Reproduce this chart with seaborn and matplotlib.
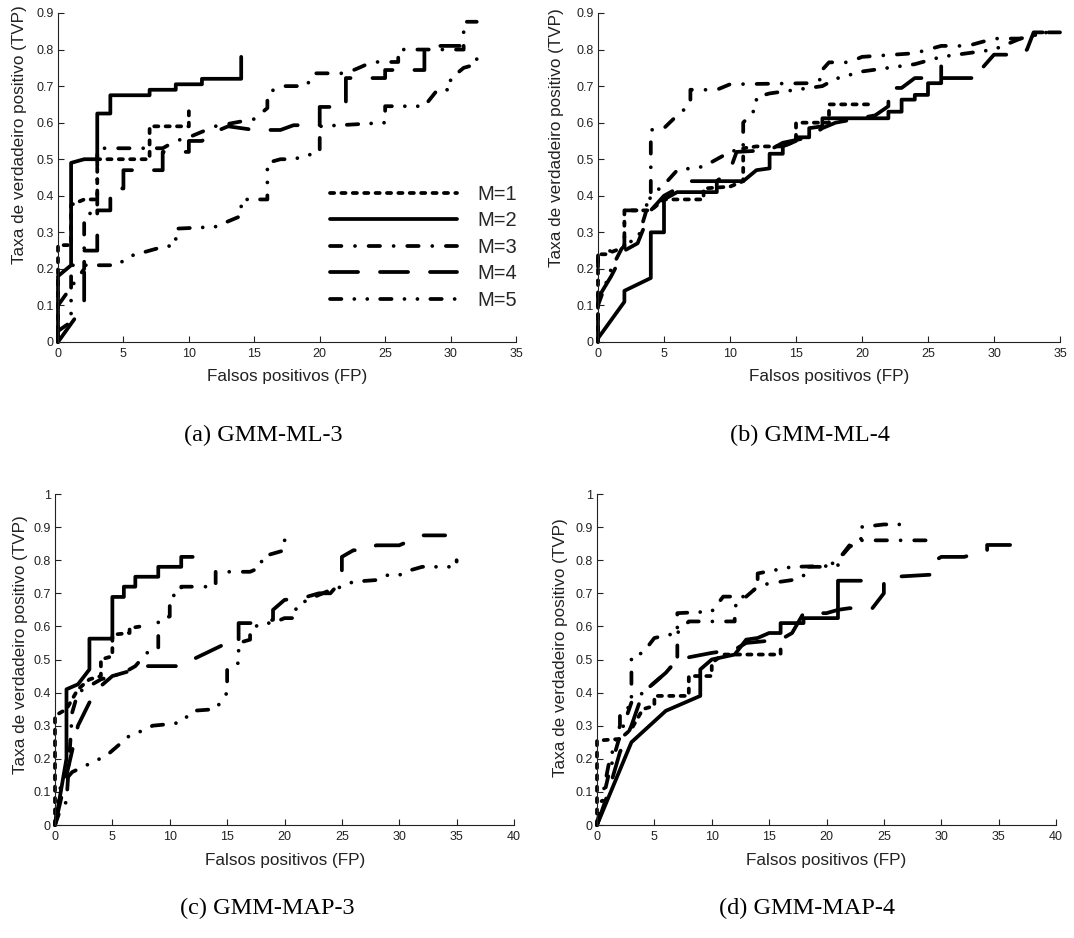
import matplotlib
matplotlib.use("Agg")
import matplotlib.pyplot as plt
from matplotlib.lines import Line2D
import seaborn as sns
import pandas as pd

# ---------------- data (FP, TVP) ----------------
labels_m = ["M=1", "M=2", "M=3", "M=4", "M=5"]

# (a) GMM-ML-3
a_m1_fp = [0, 0, 1, 1, 2, 3, 3, 7, 7, 10, 10]
a_m1_tvp = [0, 0.265, 0.265, 0.375, 0.39, 0.39, 0.5, 0.5, 0.59, 0.59, 0.64]
a_m2_fp = [0, 0, 1, 1, 2, 3, 3, 4, 4, 7, 7, 9, 9, 11, 11, 14, 14]
a_m2_tvp = [0, 0.18, 0.21, 0.49, 0.5, 0.5, 0.625, 0.625, 0.675, 0.675, 0.69, 0.69, 0.705, 0.705, 0.72, 0.72, 0.78]
a_m3_fp = [0, 0, 1, 2, 2, 3, 3, 8, 9, 10, 12, 15, 16, 16, 17, 19, 19.5, 22, 23, 24, 26, 26, 31, 31, 32]
a_m3_tvp = [0, 0.1, 0.15, 0.2, 0.345, 0.36, 0.53, 0.53, 0.55, 0.56, 0.59, 0.61, 0.64, 0.68, 0.70, 0.70, 0.735, 0.735, 0.75, 0.766, 0.766, 0.8, 0.8, 0.876, 0.876]
a_m4_fp = [0, 2, 2, 3, 3, 4, 4, 5, 5, 8, 8, 10, 10, 11, 12, 13, 15, 17, 18, 20, 20, 22, 22, 25, 25, 28, 28, 30.7]
a_m4_tvp = [0, 0.1, 0.25, 0.25, 0.36, 0.36, 0.42, 0.42, 0.47, 0.47, 0.52, 0.52, 0.55, 0.55, 0.575, 0.59, 0.58, 0.58, 0.593, 0.593, 0.643, 0.643, 0.722, 0.722, 0.744, 0.744, 0.81, 0.81]
a_m5_fp = [0, 1, 1, 4.5, 5.5, 8, 9, 9, 12, 14, 14, 16, 16, 17, 18, 20, 20, 25, 25, 28, 29, 30, 30, 31, 32, 32]
a_m5_tvp = [0.03, 0.055, 0.21, 0.21, 0.235, 0.26, 0.265, 0.31, 0.315, 0.345, 0.39, 0.39, 0.49, 0.5, 0.5, 0.52, 0.59, 0.6, 0.645, 0.645, 0.69, 0.69, 0.72, 0.75, 0.76, 0.78]

# (b) GMM-ML-4
b_m1_fp = [0, 0, 0.6, 2, 2, 4, 5, 8, 8, 10, 11, 11, 12, 14, 15, 15, 17.5, 17.5, 20.5]
b_m1_tvp = [0, 0.24, 0.24, 0.26, 0.36, 0.36, 0.39, 0.39, 0.42, 0.425, 0.44, 0.53, 0.535, 0.535, 0.55, 0.6, 0.6, 0.65, 0.65]
b_m2_fp = [0, 2, 2, 4, 4, 5, 5, 6, 9, 9, 11, 12, 13, 13, 14, 14, 15, 15, 16, 16, 17, 17, 22, 22, 23, 23, 24, 24, 25, 25, 26, 26]
b_m2_tvp = [0.01, 0.11, 0.14, 0.175, 0.3, 0.3, 0.39, 0.41, 0.41, 0.44, 0.44, 0.47, 0.475, 0.515, 0.515, 0.535, 0.55, 0.56, 0.56, 0.585, 0.59, 0.612, 0.612, 0.63, 0.63, 0.663, 0.663, 0.676, 0.676, 0.708, 0.708, 0.754]
b_m3_fp = [0, 0, 1, 2, 2, 3.5, 4, 4, 5, 6, 7, 7, 9, 10, 16, 17, 17, 17.5, 19, 20, 24, 25, 26, 28, 30, 32, 34, 35]
b_m3_tvp = [0.1, 0.24, 0.25, 0.26, 0.36, 0.36, 0.4, 0.58, 0.585, 0.62, 0.65, 0.69, 0.69, 0.705, 0.708, 0.72, 0.745, 0.765, 0.765, 0.78, 0.79, 0.80, 0.81, 0.81, 0.83, 0.83, 0.847, 0.847]
b_m4_fp = [0, 0, 1, 2, 3, 4, 5, 7, 9, 10, 10.5, 13, 14, 16, 17, 18, 21, 22, 22, 23, 24, 29, 29, 30, 32, 32.5, 33, 34.2]
b_m4_tvp = [0, 0.12, 0.18, 0.25, 0.27, 0.36, 0.40, 0.44, 0.44, 0.47, 0.52, 0.525, 0.545, 0.56, 0.585, 0.6, 0.62, 0.645, 0.695, 0.695, 0.722, 0.722, 0.745, 0.786, 0.786, 0.8, 0.847, 0.847]
b_m5_fp = [0, 1, 2, 3, 4, 5, 6, 8, 9, 10, 11, 11, 12, 12, 13, 17, 18, 20, 22, 24, 26, 28, 30, 32, 34]
b_m5_tvp = [0.1, 0.2, 0.27, 0.28, 0.4, 0.43, 0.47, 0.48, 0.5, 0.52, 0.53, 0.6, 0.64, 0.67, 0.68, 0.7, 0.72, 0.74, 0.75, 0.76, 0.78, 0.79, 0.8, 0.83, 0.847]

# (c) GMM-MAP-3
c_m1_fp = [0, 0, 1, 2, 3, 4, 4, 5, 5, 6.5, 6.5, 7.5]
c_m1_tvp = [0, 0.33, 0.35, 0.41, 0.44, 0.45, 0.5, 0.51, 0.575, 0.58, 0.595, 0.6]
c_m2_fp = [0, 1, 1, 2, 3, 3, 5, 5, 6, 6, 7, 7, 9, 9, 11, 11, 12]
c_m2_tvp = [0, 0.2, 0.41, 0.425, 0.47, 0.563, 0.563, 0.689, 0.689, 0.72, 0.72, 0.75, 0.75, 0.78, 0.78, 0.81, 0.81]
c_m3_fp = [0, 0.5, 1, 1.5, 2, 3, 4, 5, 6, 7, 8, 9, 9, 10, 10, 11, 11, 14, 14, 17, 18, 18, 19, 20, 20, 21]
c_m3_tvp = [0, 0.05, 0.07, 0.34, 0.40, 0.42, 0.44, 0.45, 0.46, 0.48, 0.52, 0.53, 0.62, 0.63, 0.69, 0.70, 0.72, 0.72, 0.765, 0.765, 0.78, 0.81, 0.82, 0.83, 0.86, 0.86]
c_m4_fp = [0, 1, 2, 3, 4, 5, 6, 7, 8, 11, 12, 15, 15, 16, 16, 18, 19, 19, 20, 22, 23, 24, 25, 25, 26, 27, 28, 30, 32, 34]
c_m4_tvp = [0, 0.15, 0.3, 0.37, 0.42, 0.45, 0.46, 0.47, 0.48, 0.48, 0.5, 0.55, 0.56, 0.56, 0.61, 0.61, 0.62, 0.65, 0.68, 0.69, 0.70, 0.70, 0.74, 0.81, 0.83, 0.83, 0.845, 0.845, 0.875, 0.875]
c_m5_fp = [0, 0.5, 1.5, 4.5, 6.5, 8, 8.5, 10, 11, 12, 14, 15, 15, 16, 16, 17, 17, 18, 19, 20, 21, 21, 22, 24, 25, 26, 28, 29, 30, 31, 32, 35, 35]
c_m5_tvp = [0, 0.12, 0.16, 0.21, 0.27, 0.29, 0.3, 0.305, 0.31, 0.345, 0.35, 0.4, 0.47, 0.49, 0.55, 0.56, 0.59, 0.61, 0.61, 0.625, 0.625, 0.66, 0.68, 0.71, 0.72, 0.735, 0.74, 0.755, 0.755, 0.77, 0.78, 0.78, 0.8]

# (d) GMM-MAP-4
d_m1_fp = [0, 0, 2, 3, 4, 5, 5, 8, 8, 10, 10, 11, 16, 16]
d_m1_tvp = [0, 0.255, 0.26, 0.29, 0.35, 0.36, 0.39, 0.39, 0.45, 0.45, 0.49, 0.515, 0.515, 0.54]
d_m2_fp = [0, 3, 6, 9, 9, 10, 12, 13, 14, 15, 16, 16, 18, 18, 21, 21, 23]
d_m2_tvp = [0, 0.25, 0.345, 0.39, 0.47, 0.5, 0.515, 0.56, 0.565, 0.58, 0.58, 0.61, 0.61, 0.625, 0.625, 0.738, 0.738]
d_m3_fp = [0, 1, 2, 3, 4, 6, 7, 7, 8, 12, 12, 13, 14, 15, 17, 18, 18, 20, 21, 22, 23, 29]
d_m3_tvp = [0, 0.15, 0.27, 0.37, 0.4, 0.46, 0.5, 0.58, 0.615, 0.615, 0.66, 0.69, 0.72, 0.73, 0.74, 0.75, 0.78, 0.78, 0.8, 0.845, 0.86, 0.86]
d_m4_fp = [0, 1, 2, 3, 4, 6, 7, 10, 12, 13, 16, 17, 18, 20, 21, 22, 24, 25, 25, 26, 29, 29, 30, 32, 34, 34, 36]
d_m4_tvp = [0, 0.1, 0.22, 0.3, 0.4, 0.46, 0.5, 0.52, 0.53, 0.55, 0.56, 0.58, 0.64, 0.64, 0.65, 0.655, 0.655, 0.7, 0.74, 0.75, 0.756, 0.79, 0.81, 0.81, 0.83, 0.846, 0.846]
d_m5_fp = [0, 1, 2, 2, 3, 3, 4, 5, 7, 7, 10, 11, 13, 14, 14, 17, 21, 21, 22, 23, 23, 25, 27]
d_m5_tvp = [0, 0.18, 0.3, 0.34, 0.36, 0.51, 0.52, 0.565, 0.58, 0.64, 0.645, 0.69, 0.69, 0.72, 0.76, 0.78, 0.783, 0.8, 0.84, 0.86, 0.9, 0.908, 0.908]

captions = ["(a) GMM-ML-3", "(b) GMM-ML-4", "(c) GMM-MAP-3", "(d) GMM-MAP-4"]
xlabel_text = "Falsos positivos (FP)"
ylabel_text = "Taxa de verdadeiro positivo (TVP)"
x_ticks_top = [0, 5, 10, 15, 20, 25, 30, 35]
x_ticks_bottom = [0, 5, 10, 15, 20, 25, 30, 35, 40]
y_ticks_top = [0, 0.1, 0.2, 0.3, 0.4, 0.5, 0.6, 0.7, 0.8, 0.9]
y_ticklabels_top = ["0", "0.1", "0.2", "0.3", "0.4", "0.5", "0.6", "0.7", "0.8", "0.9"]
y_ticks_bottom = [0, 0.1, 0.2, 0.3, 0.4, 0.5, 0.6, 0.7, 0.8, 0.9, 1]
y_ticklabels_bottom = ["0", "0.1", "0.2", "0.3", "0.4", "0.5", "0.6", "0.7", "0.8", "0.9", "1"]

panels = [
    [(a_m1_fp, a_m1_tvp), (a_m2_fp, a_m2_tvp), (a_m3_fp, a_m3_tvp), (a_m4_fp, a_m4_tvp), (a_m5_fp, a_m5_tvp)],
    [(b_m1_fp, b_m1_tvp), (b_m2_fp, b_m2_tvp), (b_m3_fp, b_m3_tvp), (b_m4_fp, b_m4_tvp), (b_m5_fp, b_m5_tvp)],
    [(c_m1_fp, c_m1_tvp), (c_m2_fp, c_m2_tvp), (c_m3_fp, c_m3_tvp), (c_m4_fp, c_m4_tvp), (c_m5_fp, c_m5_tvp)],
    [(d_m1_fp, d_m1_tvp), (d_m2_fp, d_m2_tvp), (d_m3_fp, d_m3_tvp), (d_m4_fp, d_m4_tvp), (d_m5_fp, d_m5_tvp)],
]

# ---------------- style ----------------
sns.set_theme(style="ticks")
plt.rcParams['font.family'] = ['Liberation Sans', 'DejaVu Sans']
plt.rcParams['lines.scale_dashes'] = False

LW = 2.7
dash_map = {
    "M=1": (3.0, 5.2),
    "M=2": "",
    "M=3": (8.2, 9.8, 0.01, 9.8),
    "M=4": (20.2, 15.8),
    "M=5": (8.2, 9.3, 0.01, 9.3, 0.01, 9.3),
}

W, H = 1074, 938
fig = plt.figure(figsize=(W / 100, H / 100), dpi=100)

# axes boxes in pixels: left, right, top, bottom
boxes = [(58, 516, 13, 342), (598, 1060, 13, 342), (55, 514, 494, 825), (597, 1056, 494, 825)]
ylabel_pos = [(19.5, 135), (557, 138), (21, 645), (560, 648)]
xlabel_pos = [(287, 377), (829, 377), (285, 860), (826, 860)]
caption_pos = [(263, 435), (810, 435), (267, 908), (807, 908)]

for i, (box, curves) in enumerate(zip(boxes, panels)):
    l, r, t, b = box
    ax = fig.add_axes([l / W, 1 - b / H, (r - l) / W, (b - t) / H])
    rows = []
    for lab, (xs, ys) in zip(labels_m, curves):
        for k, (x, y) in enumerate(zip(xs, ys)):
            rows.append({"fp": x, "tvp": y, "M": lab, "k": k})
    df = pd.DataFrame(rows)
    sns.lineplot(data=df, x="fp", y="tvp", style="M", dashes=dash_map,
                 style_order=labels_m, color="black", linewidth=LW,
                 sort=False, estimator=None, legend=False, ax=ax,
                 dash_capstyle="round", solid_capstyle="round",
                 solid_joinstyle="round", dash_joinstyle="round")
    for ln in ax.lines:
        ln.set_clip_on(False)
    top = i < 2
    ax.set_xlim(0, 35 if top else 40)
    ax.set_ylim(0, 0.9 if top else 1.0)
    ax.set_xticks(x_ticks_top if top else x_ticks_bottom)
    ax.set_xticklabels([str(v) for v in (x_ticks_top if top else x_ticks_bottom)])
    ax.set_yticks(y_ticks_top if top else y_ticks_bottom)
    ax.set_yticklabels(y_ticklabels_top if top else y_ticklabels_bottom)
    ax.set_xlabel("")
    ax.set_ylabel("")
    for s in ["top", "right"]:
        ax.spines[s].set_visible(False)
    for s in ["left", "bottom"]:
        ax.spines[s].set_linewidth(0.8)
        ax.spines[s].set_color("#222222")
    ax.tick_params(direction="in", length=4, width=0.8, labelsize=9,
                   colors="#222222", pad=3)
    ax.tick_params(axis="x", pad=4)
    ax.set_facecolor("white")

    fig.text(ylabel_pos[i][0] / W, 1 - ylabel_pos[i][1] / H, ylabel_text,
             rotation=90, ha="center", va="center", fontsize=12.3, color="#222222")
    fig.text(xlabel_pos[i][0] / W, 1 - xlabel_pos[i][1] / H, xlabel_text,
             ha="center", va="center", fontsize=12.3, color="#222222")
    fig.text(caption_pos[i][0] / W, 1 - caption_pos[i][1] / H, captions[i],
             ha="center", va="center", fontsize=17.5, family="Liberation Serif",
             color="black")

    if i == 0:
        handles = [Line2D([], [], color="black", linewidth=LW,
                          dash_capstyle="round", solid_capstyle="round")
                   for _ in labels_m]
        for h, lab in zip(handles, labels_m):
            if dash_map[lab]:
                h.set_dashes(dash_map[lab])
        fig.legend(handles, labels_m, loc="upper left",
                   bbox_to_anchor=(330 / W, 1 - 185 / H), frameon=False,
                   fontsize=14.5, handlelength=6.3, handletextpad=1.0,
                   labelspacing=0.37, borderpad=0, borderaxespad=0)

fig.savefig("out.png", dpi=100, facecolor="white")
